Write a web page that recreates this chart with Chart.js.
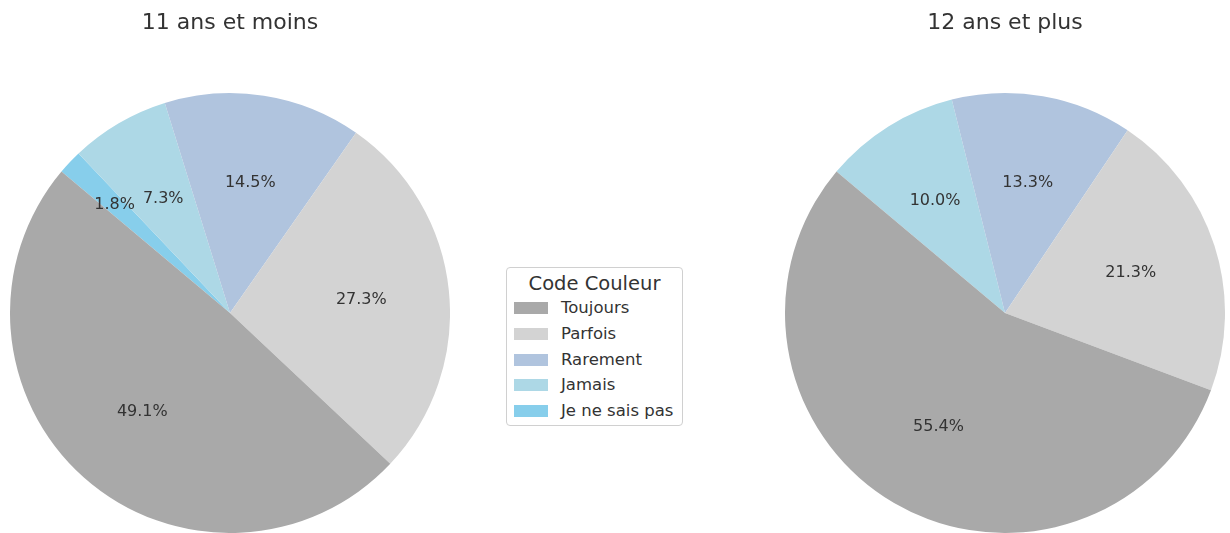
<!DOCTYPE html>
<html>
<head>
<meta charset="utf-8">
<script src="https://cdn.jsdelivr.net/npm/chart.js@4/dist/chart.umd.min.js"></script>
<style>
body{margin:0;background:#fff;width:1230px;height:533px;overflow:hidden;position:relative;font-family:"DejaVu Sans",sans-serif;color:#333;}
.pie{position:absolute;top:0;width:440px;height:533px;}
#legend{position:absolute;left:506px;top:267px;width:177px;height:159px;box-sizing:border-box;border:1px solid #d0d0d0;border-radius:4px;background:#fff;}
#legend .ttl{position:absolute;left:0;right:0;top:4px;text-align:center;font-size:19.5px;line-height:24px;}
#legend .row{position:absolute;left:7px;height:20px;font-size:16.5px;line-height:20px;}
#legend .sw{position:absolute;left:0;top:4px;width:34px;height:12px;}
#legend .lb{position:absolute;left:47px;top:0;white-space:nowrap;}
</style>
</head>
<body>
<div class="pie" style="left:10px"><canvas id="pieYoung"></canvas></div>
<div class="pie" style="left:785px"><canvas id="pieOld"></canvas></div>
<div id="legend"></div>
<script>
const categories=["Toujours","Parfois","Rarement","Jamais","Je ne sais pas"];
const colors=["#A9A9A9","#D3D3D3","#B0C4DE","#ADD8E6","#87CEEB"];
const youngValues=[49.1,27.3,14.5,7.3,1.8];
const oldValues=[55.4,21.3,13.3,10.0];
const titles=["11 ans et moins","12 ans et plus"];

// matplotlib draws counterclockwise from 140deg, chart.js clockwise -> reverse order
const pctLabels={
id:"pctLabels",
afterDatasetsDraw(chart){
const ctx=chart.ctx;
const meta=chart.getDatasetMeta(0);
const vals=chart.data.datasets[0].data;
ctx.save();
ctx.font="16px 'DejaVu Sans'";
ctx.fillStyle="#333";
ctx.textAlign="center";
ctx.textBaseline="middle";
meta.data.forEach((arc,i)=>{
if(!vals[i])return;
const p=arc.getProps(["x","y","startAngle","endAngle","outerRadius"],true);
const mid=(p.startAngle+p.endAngle)/2;
// tiny slice label pushed out a bit so it doesn't collide
const r=p.outerRadius*(vals[i]<3?0.72:0.6);
ctx.fillText(vals[i].toFixed(1)+"%",p.x+Math.cos(mid)*r,p.y+Math.sin(mid)*r);
});
ctx.restore();
}
};

function makePie(id,values,title){
const n=values.length;
new Chart(document.getElementById(id),{
type:"pie",
data:{
labels:categories.slice(0,n).reverse(),
datasets:[{
data:values.slice().reverse(),
backgroundColor:colors.slice(0,n).reverse(),
borderWidth:0
}]
},
options:{
responsive:true,
maintainAspectRatio:false,
animation:false,
rotation:-50,
layout:{padding:0},
plugins:{
legend:{display:false},
tooltip:{enabled:false},
title:{
display:true,
text:title,
color:"#333",
font:{family:"DejaVu Sans",size:22,weight:"normal"},
padding:{top:10,bottom:56.6}
}
}
},
plugins:[pctLabels]
});
}

makePie("pieYoung",youngValues,titles[0]);
makePie("pieOld",oldValues,titles[1]);

const legend=document.getElementById("legend");
let html='<div class="ttl">Code Couleur</div>';
categories.forEach((c,i)=>{
const top=30+i*25.8;
html+='<div class="row" style="top:'+top+'px"><div class="sw" style="background:'+colors[i]+'"></div><div class="lb">'+c+'</div></div>';
});
legend.innerHTML=html;
</script>
</body>
</html>
